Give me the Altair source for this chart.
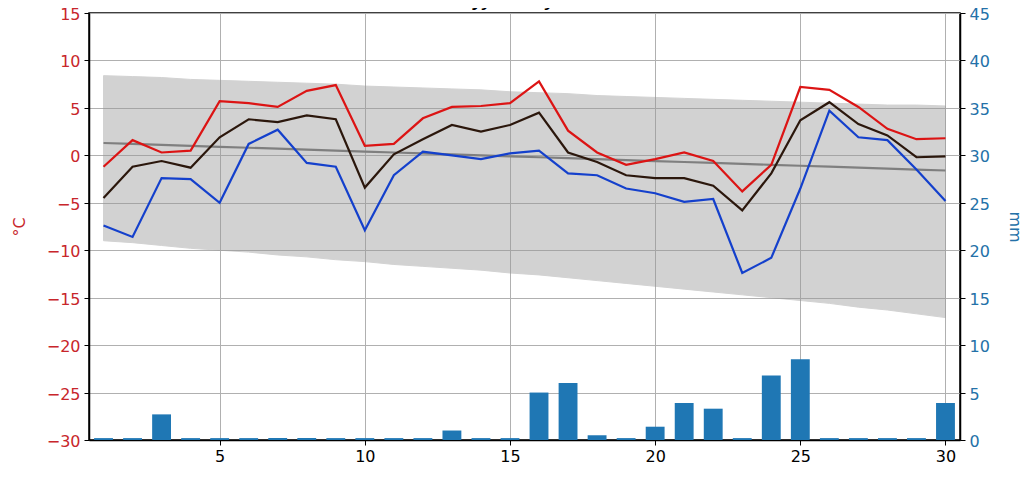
import altair as alt
import pandas as pd

days = list(range(1, 31))
tmax = [-1.2, 1.6, 0.3, 0.5, 5.7, 5.5, 5.1, 6.8, 7.4, 1.0, 1.2, 3.9, 5.1, 5.2, 5.5,
        7.8, 2.6, 0.3, -1.0, -0.4, 0.3, -0.6, -3.8, -1.0, 7.2, 6.9, 5.1, 2.8, 1.7, 1.8]
tmean = [-4.5, -1.2, -0.6, -1.3, 1.9, 3.8, 3.5, 4.2, 3.8, -3.4, 0.1, 1.7, 3.2, 2.5, 3.2,
         4.5, 0.3, -0.7, -2.1, -2.4, -2.4, -3.2, -5.8, -1.9, 3.7, 5.6, 3.3, 2.1, -0.2, -0.1]
tmin = [-7.4, -8.6, -2.4, -2.5, -5.0, 1.2, 2.7, -0.8, -1.2, -7.9, -2.1, 0.4, 0.0, -0.4, 0.2,
        0.5, -1.9, -2.1, -3.5, -4.0, -4.9, -4.6, -12.4, -10.8, -3.5, 4.7, 1.9, 1.6, -1.5, -4.8]
band_hi = [8.4, 8.3, 8.2, 8.0, 7.9, 7.8, 7.7, 7.6, 7.5, 7.3, 7.2, 7.1, 7.0, 6.9, 6.7,
           6.6, 6.5, 6.3, 6.2, 6.1, 6.0, 5.9, 5.8, 5.7, 5.6, 5.5, 5.4, 5.3, 5.3, 5.2]
band_lo = [-9.0, -9.2, -9.5, -9.8, -10.0, -10.2, -10.5, -10.7, -11.0, -11.2, -11.5, -11.7,
           -11.9, -12.1, -12.4, -12.6, -12.9, -13.2, -13.5, -13.8, -14.1, -14.4, -14.7,
           -15.0, -15.3, -15.6, -16.0, -16.3, -16.7, -17.1]
clim_mean = [1.3, 1.2, 1.1, 1.0, 0.9, 0.8, 0.7, 0.6, 0.5, 0.4, 0.3, 0.2, 0.1, 0.0, -0.1,
             -0.2, -0.3, -0.4, -0.5, -0.6, -0.7, -0.8, -0.9, -1.0, -1.1, -1.2, -1.3, -1.4,
             -1.5, -1.6]
precip = [0.2, 0.2, 2.7, 0.2, 0.2, 0.2, 0.2, 0.2, 0.2, 0.2, 0.2, 0.2, 1.0, 0.2, 0.2,
          5.0, 6.0, 0.5, 0.2, 1.4, 3.9, 3.3, 0.2, 6.8, 8.5, 0.2, 0.2, 0.2, 0.2, 3.9]
x_ticks = [5, 10, 15, 20, 25, 30]
t_ticks = [-30, -25, -20, -15, -10, -5, 0, 5, 10, 15]
p_ticks = [0, 5, 10, 15, 20, 25, 30, 35, 40, 45]
title_text = "Jyväskylä"

df = pd.DataFrame({
    "day": days, "tmax": tmax, "tmean": tmean, "tmin": tmin,
    "hi": band_hi, "lo": band_lo, "cm": clim_mean, "p": precip,
})

FONT = "DejaVu Sans"
xscale = alt.Scale(domain=[0.5, 30.5], nice=False, zero=False)
tscale = alt.Scale(domain=[-30, 15], nice=False, zero=False)
pscale = alt.Scale(domain=[0, 45], nice=False)

xaxis = alt.Axis(values=x_ticks, title=None, grid=True, gridColor="#b0b0b0", gridWidth=1,
                 tickColor="black", tickSize=5, domainColor="black", domainWidth=1.5,
                 labelColor="black", labelFontSize=16, labelFont=FONT, labelPadding=3,
                 labelFlush=False)
taxis = alt.Axis(values=t_ticks, title="°C", grid=True, gridColor="#b0b0b0", gridWidth=1,
                 tickColor="black", tickSize=5, domainColor="black", domainWidth=1.5,
                 labelColor="#c8262b", labelFontSize=16, labelFont=FONT, labelPadding=4,
                 labelOffset=1.5,
                 titleColor="#c8262b", titleFontSize=16, titleFont=FONT,
                 titleFontWeight="normal", titlePadding=19, labelFlush=False)
paxis = alt.Axis(values=p_ticks, title="mm", orient="right", grid=False,
                 tickColor="black", tickSize=5, domainColor="black", domainWidth=1.5,
                 labelColor="#2471a8", labelFontSize=16, labelFont=FONT, labelPadding=4,
                 labelOffset=1.5,
                 titleColor="#2471a8", titleFontSize=16, titleFont=FONT,
                 titleFontWeight="normal", titlePadding=17, labelFlush=False)

base = alt.Chart(df)
X = alt.X("day:Q", scale=xscale, axis=xaxis)


def tline(field, color):
    return base.mark_line(color=color, strokeWidth=2.2).encode(
        x=X, y=alt.Y(f"{field}:Q", scale=tscale, axis=taxis)
    )


band = base.mark_area(color="#969696", opacity=0.42, stroke="#969696", strokeWidth=1).encode(
    x=X,
    y=alt.Y("lo:Q", scale=tscale, axis=taxis),
    y2="hi:Q",
)
meanline = tline("cm", "#7f7f7f")
red = tline("tmax", "#dc1414")
black = tline("tmean", "#2b170c")
blue = tline("tmin", "#1440cc")

title = alt.Chart(pd.DataFrame({"t": [title_text]})).mark_text(
    font=FONT, fontSize=22, baseline="bottom", align="center", color="black"
).encode(
    text="t:N", x=alt.value(435.5), y=alt.value(-2)
)

left = alt.layer(band, meanline, red, black, blue, title)

bars = base.transform_calculate(
    x0="datum.day - 0.325", x1="datum.day + 0.325"
).mark_rect(color="#1f77b4").encode(
    x=alt.X("x0:Q", scale=xscale, axis=xaxis),
    x2="x1:Q",
    y=alt.Y("p:Q", scale=pscale, axis=paxis),
    y2=alt.datum(0),
)

chart = alt.layer(left, bars).resolve_scale(y="independent").properties(
    width=871, height=427,
    autosize=alt.AutoSizeParams(type="none"),
    padding={"left": 81, "top": 5, "right": 66, "bottom": 44},
).configure_view(stroke="black", strokeWidth=1.5)

chart.save("out.html", embed_options={"renderer": "svg", "actions": False})
